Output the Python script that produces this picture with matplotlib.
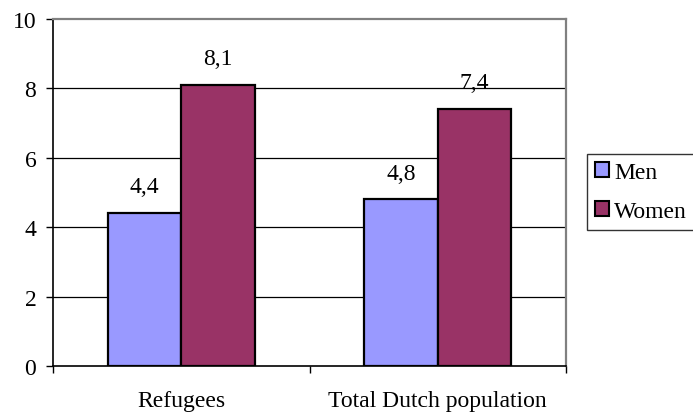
import matplotlib
matplotlib.use("Agg")
import matplotlib.pyplot as plt
import numpy as np
from matplotlib.patches import Patch

categories = ["Refugees", "Total Dutch population"]
series_names = ["Men", "Women"]
men = [4.4, 4.8]
women = [8.1, 7.4]
value_labels_men = ["4,4", "4,8"]
value_labels_women = ["8,1", "7,4"]
yticks = [0, 2, 4, 6, 8, 10]

plt.rcParams["font.family"] = ["Liberation Serif", "DejaVu Serif"]
FS = 17

fig = plt.figure(figsize=(6.93, 4.14), dpi=100)
ax = fig.add_axes([53 / 693, 1 - 367 / 414, 513 / 693, 347 / 414])

x = np.arange(len(categories))
w = 1 / 3.5
men_color = "#9999FF"
women_color = "#993366"

b1 = ax.bar(x - w / 2, men, w, color=men_color, edgecolor="black", linewidth=1.6, zorder=3)
b2 = ax.bar(x + w / 2, women, w, color=women_color, edgecolor="black", linewidth=1.6, zorder=3)

for bars, labels in ((b1, value_labels_men), (b2, value_labels_women)):
    for rect, lab in zip(bars, labels):
        ax.annotate(lab, (rect.get_x() + rect.get_width() / 2, rect.get_height()),
                    xytext=(0, 19), textcoords="offset points",
                    ha="center", va="center", fontsize=FS)

ax.set_xlim(-0.5, len(categories) - 0.5)
ax.set_ylim(0, 10)
ax.set_yticks(yticks)
ax.set_yticklabels([str(t) for t in yticks], fontsize=FS)

# gridlines at interior ticks
for t in yticks[1:-1]:
    ax.axhline(t, color="black", linewidth=0.9, zorder=1)

# category boundaries as x ticks
ax.set_xticks(np.arange(-0.5, len(categories), 1.0))
ax.set_xticklabels([])
ax.set_xticks(x, minor=True)
ax.set_xticklabels(categories, minor=True, fontsize=FS)
ax.tick_params(axis="x", which="minor", length=0, pad=17)
ax.tick_params(axis="x", which="major", length=5, width=1, direction="out")
ax.tick_params(axis="y", length=5, width=1, direction="out", pad=7)

ax.spines["left"].set_color("black")
ax.spines["bottom"].set_color("black")
ax.spines["top"].set_color("#808080")
ax.spines["right"].set_color("#808080")
for s in ax.spines.values():
    s.set_linewidth(1.6)
ax.spines["left"].set_linewidth(1.2)
ax.spines["bottom"].set_linewidth(1.2)

handles = [Patch(facecolor=men_color, edgecolor="black", linewidth=1.5),
           Patch(facecolor=women_color, edgecolor="black", linewidth=1.5)]
leg = fig.legend(handles, series_names, loc="upper left",
                 bbox_to_anchor=(587 / 693, 1 - 155 / 414),
                 frameon=True, fancybox=False, fontsize=FS,
                 handlelength=0.6, handleheight=0.6, handletextpad=0.2,
                 labelspacing=0.75, borderpad=0.35, borderaxespad=0)
leg.get_frame().set_edgecolor("black")
leg.get_frame().set_linewidth(1.0)

fig.savefig("out.png", dpi=100)
